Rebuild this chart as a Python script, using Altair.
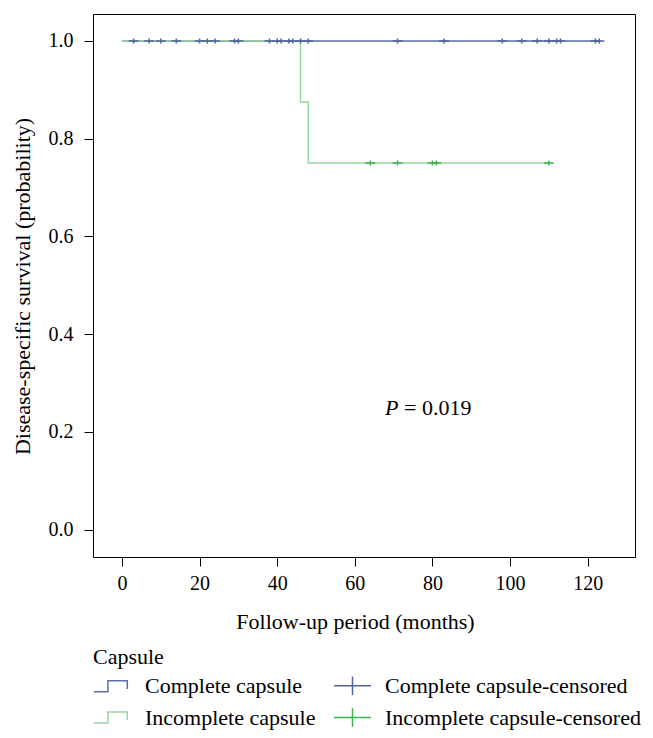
import altair as alt
import pandas as pd

# ---- data ----
complete_times = [0, 123]
complete_surv = [1.0, 1.0]
incomplete_times = [0, 46, 48, 110]
incomplete_surv = [1.0, 0.875, 0.75, 0.75]
complete_censored_times = [3, 7, 10, 14, 20, 22, 24, 29, 30, 38, 40, 41, 43, 44, 46, 48,
                           71, 83, 98, 103, 107, 110, 112, 113, 122, 123]
complete_censored_surv = [1.0] * len(complete_censored_times)
incomplete_censored_times = [64, 71, 80, 81, 110]
incomplete_censored_surv = [0.75] * len(incomplete_censored_times)

# legend entries (filled column by column)
legend_keys = ["Complete capsule", "Incomplete capsule",
               "Complete capsule-censored", "Incomplete capsule-censored"]
x_ticks = [0, 20, 40, 60, 80, 100, 120]
y_ticks = [0.0, 0.2, 0.4, 0.6, 0.8, 1.0]
p_text_italic = "P"
p_text_rest = "= 0.019"

# ---- styling ----
BLUE = "#5a6ea6"
BLUE_CROSS = "#50659f"
GREEN_LINE = "#96d6a0"
GREEN_CROSS = "#3cb44e"
FONT = "Liberation Serif"

step_path = "M-1,0.3H-0.25V-0.3H0.8V0.15"
cross_path = "M-1,0H1M0,-0.5V0.5"

xscale = alt.Scale(domain=[-7.47, 132.2], nice=False, zero=False)
yscale = alt.Scale(domain=[-0.056, 1.055], nice=False, zero=False)

xaxis = alt.Axis(values=x_ticks, title="Follow-up period (months)", grid=False,
                 domain=False, tickSize=9, labelPadding=7, format="d",
                 titleX=262, titleY=71, titleBaseline="alphabetic", titleAlign="center")
yaxis = alt.Axis(values=y_ticks, title="Disease-specific survival (probability)", grid=False,
                 domain=False, tickSize=9, labelPadding=11, format=".1f",
                 titleX=-64, titleY=272, titleBaseline="alphabetic", titleAlign="center",
                 titleAngle=270)

X = alt.X("time:Q", scale=xscale, axis=xaxis)
Y = alt.Y("surv:Q", scale=yscale, axis=yaxis)

df_complete = pd.DataFrame({"time": complete_times, "surv": complete_surv})
df_incomplete = pd.DataFrame({"time": incomplete_times, "surv": incomplete_surv})
df_cens = pd.concat([
    pd.DataFrame({"time": complete_censored_times, "surv": complete_censored_surv,
                  "key": legend_keys[2]}),
    pd.DataFrame({"time": incomplete_censored_times, "surv": incomplete_censored_surv,
                  "key": legend_keys[3]}),
], ignore_index=True)

line_complete = alt.Chart(df_complete).mark_line(
    interpolate="step-after", color=BLUE, strokeWidth=1.5).encode(x=X, y=Y)
line_incomplete = alt.Chart(df_incomplete).mark_line(
    interpolate="step-after", color=GREEN_LINE, strokeWidth=1.5).encode(x=X, y=Y)

legend = alt.Legend(title="Capsule", orient="none", legendX=0, legendY=633,
                    columns=2, columnPadding=15, rowPadding=-5,
                    symbolSize=1369, symbolStrokeWidth=1.5,
                    labelOffset=13, titlePadding=-3)

crosses = alt.Chart(df_cens).mark_point(
    filled=False, strokeWidth=1.5, opacity=1, size=100).encode(
    x=X, y=Y,
    color=alt.Color("key:N",
                    scale=alt.Scale(domain=legend_keys,
                                    range=[BLUE, GREEN_LINE, BLUE_CROSS, GREEN_CROSS]),
                    legend=legend),
    shape=alt.Shape("key:N",
                    scale=alt.Scale(domain=legend_keys,
                                    range=[step_path, step_path, cross_path, cross_path]),
                    legend=legend),
)

p_italic = alt.Chart().mark_text(
    text=p_text_italic, font=FONT, fontSize=22, fontStyle="italic", align="left",
    baseline="middle", color="black").encode(x=alt.datum(67.8), y=alt.datum(0.248))
p_rest = alt.Chart().mark_text(
    text=p_text_rest, font=FONT, fontSize=22, align="left",
    baseline="middle", color="black").encode(x=alt.datum(72.7), y=alt.datum(0.248))

chart = alt.layer(line_complete, line_incomplete, crosses, p_italic, p_rest).properties(
    width=542, height=543,
    autosize=alt.AutoSizeParams(type="none"),
    padding={"left": 85, "top": 6, "right": 10, "bottom": 180},
    background="white",
).configure_view(
    stroke="black", strokeWidth=1
).configure_axis(
    labelFont=FONT, labelFontSize=20, labelColor="black",
    titleFont=FONT, titleFontSize=22, titleFontWeight="normal", titleColor="black",
    tickColor="black", tickWidth=1,
).configure_legend(
    titleFont=FONT, titleFontSize=22, titleFontWeight="normal", titleColor="black",
    labelFont=FONT, labelFontSize=22, labelColor="black", labelLimit=400,
)

chart.save("out.html", embed_options={"renderer": "svg", "actions": False})
